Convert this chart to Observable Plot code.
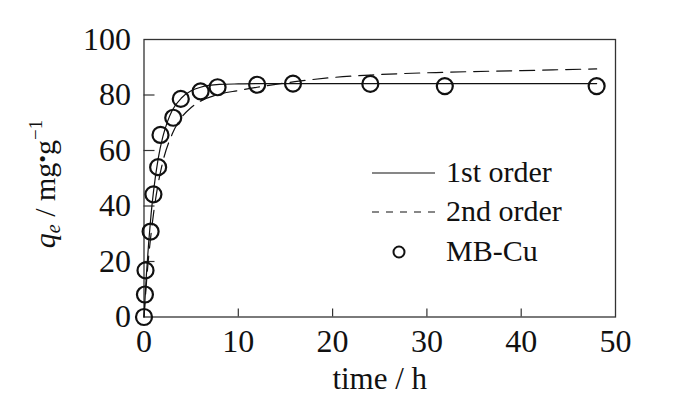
<!DOCTYPE html>
<html><head><meta charset="utf-8">
<script src="https://cdn.jsdelivr.net/npm/d3@7"></script>
<script src="https://cdn.jsdelivr.net/npm/@observablehq/plot@0.6"></script>
<style>body{margin:0;background:#fff} #chart{position:relative;width:691px;height:412px}
#chart svg, #chart svg text {font-family:'Liberation Serif', serif !important;}</style>
</head><body><div id="chart"></div>
<script>
// Observed MB-Cu data (time in h, q_e in mg/g)
const obsTime = [0, 0.1, 0.16, 0.7, 1, 1.5, 1.75, 3.1, 3.9, 6, 7.8, 12, 15.8, 24, 31.9, 48];
const obsQ    = [0, 8.1, 16.8, 30.8, 44.2, 54, 65.6, 71.8, 78.6, 81.3, 82.8, 83.7, 84.1, 84, 83.2, 83.2];
// 1st order model curve
const firstTime = [0, 0.25, 0.5, 0.75, 1, 1.5, 2, 2.5, 3, 4, 5, 6, 8, 10, 12, 16, 24, 32, 48];
const firstQ    = [0, 15, 27, 37, 45, 57, 65, 70.5, 74.5, 79, 81.5, 82.8, 83.8, 84, 84.1, 84.1, 84.1, 84.1, 84.1];
// 2nd order model curve
const secondTime = [0, 0.25, 0.5, 0.75, 1, 1.5, 2, 3, 4, 5, 6, 8, 10, 12, 16, 20, 24, 32, 40, 48];
const secondQ    = [0, 12, 22, 30, 37, 48, 56, 66, 72, 75.5, 77.8, 80.3, 81.6, 82.8, 84.8, 86.3, 87.2, 88.2, 88.8, 89.4];
// ticks
const xTicks = [0, 10, 20, 30, 40, 50];
const yTicks = [0, 20, 40, 60, 80, 100];
const xInnerTicks = [10, 20, 30, 40];
const yInnerTicks = [20, 40, 60, 80];
const legendLabels = ["1st order", "2nd order", "MB-Cu"];

const obs = obsTime.map((t, i) => ({t, q: obsQ[i]}));
const first = firstTime.map((t, i) => ({t, q: firstQ[i]}));
const second = secondTime.map((t, i) => ({t, q: secondQ[i]}));

const ink = "#111";
const font = "Liberation Serif";

const plot = Plot.plot({
  width: 691, height: 412,
  marginLeft: 143.5, marginRight: 76, marginTop: 39, marginBottom: 95.5,
  style: {fontFamily: font, fontSize: "32px", color: ink, background: "#fff"},
  x: {domain: [0, 50], label: null},
  y: {domain: [0, 100], label: null},
  marks: [
    Plot.frame({stroke: "#333", strokeWidth: 1.3}),
    Plot.axisX(xInnerTicks, {tickSize: -8, text: null, label: null, stroke: "#333", strokeWidth: 1.2}),
    Plot.axisX(xTicks, {tickSize: 0, tickPadding: 12, label: null, fill: ink}),
    Plot.axisY(yInnerTicks, {tickSize: -11, text: null, label: null, stroke: "#333", strokeWidth: 1.2}),
    Plot.axisY(yTicks, {tickSize: 0, tickPadding: 13, label: null, fill: ink}),
    Plot.line(second, {x: "t", y: "q", stroke: ink, strokeWidth: 1.2, strokeDasharray: "15,8", curve: "monotone-x"}),
    Plot.line(first, {x: "t", y: "q", stroke: ink, strokeWidth: 1.2, curve: "monotone-x"}),
    Plot.dot(obs, {x: "t", y: "q", r: 8, stroke: ink, strokeWidth: 2.2, fill: "none"}),
    Plot.text(["time / h"], {frameAnchor: "bottom", dy: 72, fontSize: 31, fill: ink})
  ]
});
document.getElementById("chart").appendChild(plot);

const svg = d3.select(plot);
// y-axis label
const yl = svg.append("text")
  .attr("transform", "translate(55,184) rotate(-90)")
  .attr("text-anchor", "middle")
  .attr("font-size", 30).attr("fill", ink);
yl.append("tspan").attr("font-style", "italic").text("q");
yl.append("tspan").attr("font-style", "italic").attr("font-size", 20).attr("dy", 5).text("e");
yl.append("tspan").attr("dy", -5).text(" / mg");
yl.append("tspan").attr("font-size", 22).attr("dy", -5).text("\u2022");
yl.append("tspan").attr("dy", 5).text("g");
yl.append("tspan").attr("font-size", 19).attr("dy", -13).text("\u22121");

// legend
const lg = svg.append("g").attr("font-size", 30).attr("fill", ink).attr("text-anchor", "start");
const rows = [173, 212, 252];
legendLabels.forEach((lab, i) => {
  const y = rows[i];
  if (i === 0) lg.append("line").attr("x1", 372).attr("x2", 435).attr("y1", y).attr("y2", y).attr("stroke", ink).attr("stroke-width", 1.2);
  if (i === 1) lg.append("line").attr("x1", 372).attr("x2", 435).attr("y1", y).attr("y2", y).attr("stroke", ink).attr("stroke-width", 1.2).attr("stroke-dasharray", "7,7");
  if (i === 2) lg.append("circle").attr("cx", 399).attr("cy", y).attr("r", 5.5).attr("fill", "none").attr("stroke", ink).attr("stroke-width", 2);
  lg.append("text").attr("x", 446).attr("y", y + 9).text(lab);
});
</script>
</body></html>
